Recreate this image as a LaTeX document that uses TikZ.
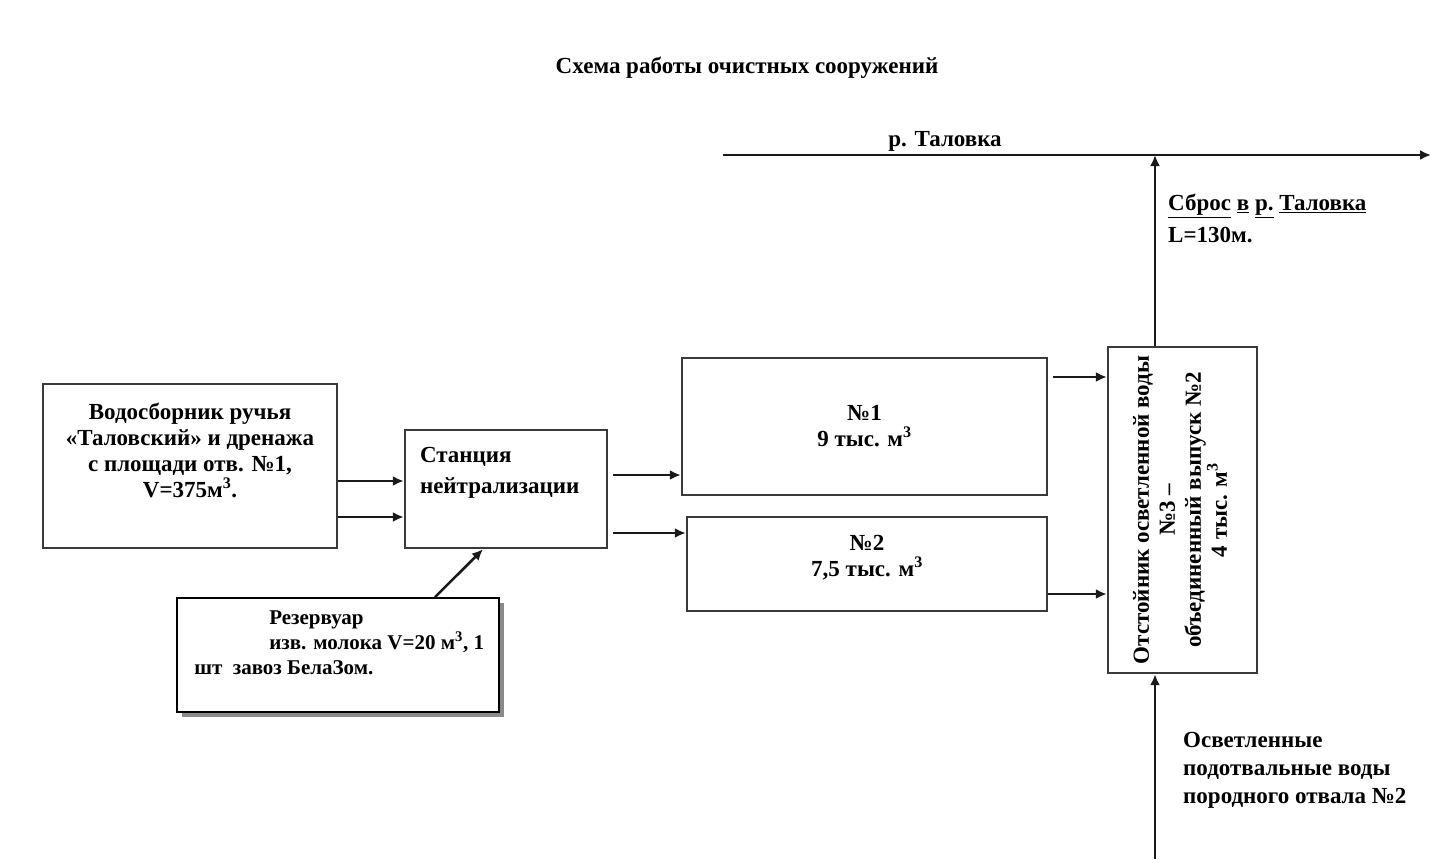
\documentclass[tikz,border=0pt]{standalone}
\usepackage{fontspec}
\setmainfont{Liberation Serif}
\usepackage{tikz}
\usetikzlibrary{arrows.meta,shadows}
\definecolor{scLine}{HTML}{1A1A1A}
\definecolor{scBorder}{HTML}{3A3A3A}
\definecolor{scShadow}{HTML}{8A8A8A}
\newcommand{\cub}{м\textsuperscript{3}}

\begin{document}
\begin{tikzpicture}[
  x=1pt, y=-1pt,
  font=\fontsize{23}{26}\selectfont\bfseries,
  box/.style={draw=scBorder, line width=2.4pt, fill=white, align=center, inner sep=0pt},
  resbox/.style={box, draw=black, line width=1.8pt,
                 drop shadow={shadow xshift=5pt, shadow yshift=-5pt, fill=scShadow, opacity=1}},
  txt/.style={align=left, inner sep=0pt},
  flow/.style={-{Latex[length=11pt,width=10pt]}, line width=2.6pt, draw=scLine},
]
\useasboundingbox (0,0) rectangle (1431,859);

% ── Title and river ──────────────────────────────────────────────────────────
\node[txt] (title) at (747,68) {Схема работы очистных сооружений};
\coordinate (rivS) at (723,155);
\coordinate (rivE) at (1431,155);
\draw[flow] (rivS) -- (rivE);
\node[txt] (river) at (945,141) {р. Таловка};

% ── Boxes ────────────────────────────────────────────────────────────────────
\node[box, minimum width=294pt, minimum height=164pt] (vodo) at (190,466) {};
\node[txt, align=center] (vodoTxt) at (190,450)
  {Водосборник ручья\\«Таловский» и дренажа\\с площади отв. №1,\\V=375\cub.};
\node[box, minimum width=202pt, minimum height=118pt] (stn) at (506,489) {};
\node[txt, anchor=north west] (stnTxt) at ([xshift=16pt, yshift=-18pt]stn.north west)
  {Станция\\[5pt]нейтрализации};
\node[box, minimum width=365pt, minimum height=137pt] (ot1) at (864.5,426.5)
  {№1\\9 тыс. \cub};
\node[box, minimum width=360pt, minimum height=94pt] (ot2) at (867,564) {};
\node[txt, align=center] (ot2Txt) at (867,558) {№2\\7,5 тыс. \cub};
\node[box, minimum width=149pt, minimum height=326pt] (settler) at (1182.5,510) {};
\node[txt, align=center, rotate=90] (settlerTxt) at (1180,510)
  {Отстойник осветленной воды\\№3 –\\объединенный выпуск №2\\4 тыс. \cub};
\node[resbox, minimum width=322pt, minimum height=114pt] (res) at (338,655) {};
\node[txt, anchor=north west, font=\fontsize{21}{25}\selectfont\bfseries] (resTxt)
  at ([xshift=18pt, yshift=-13pt]res.north west)
  {\hspace*{75pt}Резервуар\\\hspace*{75pt}изв. молока V=20 \cub, 1\\шт\ \ завоз БелаЗом.};

% ── Side labels ──────────────────────────────────────────────────────────────
\node[txt, anchor=north west] (sbros) at (1168,194)
  {\underline{Сброс} \underline{в} \underline{р.} \underline{Таловка}\\[6pt]L=130м.};
\node[txt, anchor=north west] (podv) at (1183,732)
  {Осветленные\\[2pt]подотвальные воды\\[2pt]породного отвала №2};

% ── Connectors ───────────────────────────────────────────────────────────────
\draw[flow] (vodo.east |- 0,481) -- (stn.west |- 0,481);
\draw[flow] (vodo.east |- 0,517) -- (stn.west |- 0,517);
\draw[flow] ([xshift=5pt]stn.east |- 0,475) -- (ot1.west |- 0,475);
\draw[flow] ([xshift=5pt]stn.east |- 0,533) -- (ot2.west |- 0,533);
\draw[flow] ([xshift=5pt]ot1.east |- 0,377) -- (settler.west |- 0,377);
\draw[flow] (ot2.east |- 0,594) -- (settler.west |- 0,594);
\draw[flow] ([xshift=97pt]res.north) -- ([xshift=-23pt]stn.south);
\draw[flow] ([xshift=-27.5pt]settler.north) -- ([xshift=-27.5pt]settler.north |- rivS);
\coordinate (podIn) at (1155,859);
\draw[flow] (podIn) -- (settler.south -| podIn);

\end{tikzpicture}
\end{document}
